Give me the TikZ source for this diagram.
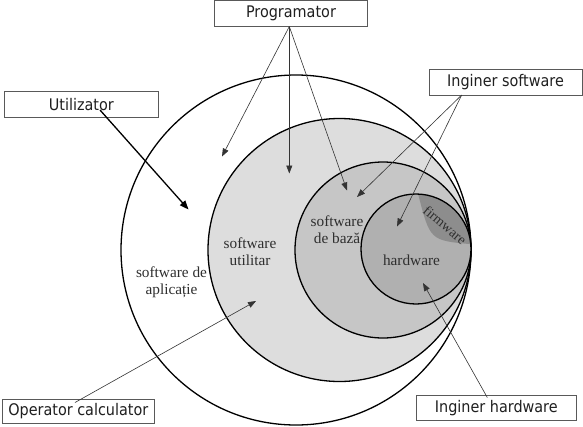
\documentclass[tikz,border=0pt]{standalone}
\usepackage{fontspec}
\setmainfont{Liberation Serif}
\newfontfamily\boxfont{DejaVu Sans Condensed}
\usetikzlibrary{arrows.meta}
\definecolor{cUtil}{HTML}{DDDDDD}
\definecolor{cBaza}{HTML}{C6C6C6}
\definecolor{cHard}{HTML}{B0B0B0}
\definecolor{cFirm}{HTML}{8D8D8D}
\begin{document}
\begin{tikzpicture}[x=1pt,y=-1pt,
  lbl/.style={font=\fontsize{15.3}{17}\selectfont, text=black!82, align=center, inner sep=0pt},
  actor/.style={draw=black!65, line width=0.8pt, font=\boxfont\fontsize{16}{18}\selectfont, text=black!88, inner sep=0pt},
  ring/.style={draw=black, line width=1.3pt},
  arr/.style={draw=black!80, line width=0.6pt, -{Triangle[length=8pt,width=6pt]}},
]
\useasboundingbox (0,0) rectangle (583,426);

% circles
\fill[white] (296,250) circle[radius=175pt];
\draw[ring] (296,250) circle[radius=175pt];
\filldraw[ring, fill=cUtil] (339.5,250) circle[radius=131.5pt];
\filldraw[ring, fill=cBaza] (383,250) circle[radius=88pt];
\fill[cHard] (416,249) circle[radius=55pt];
\begin{scope}
  \clip (416,249) circle[radius=55pt];
  \fill[cFirm] (471.5,244.2) .. controls (430,240.5) .. (418,193.5) -- (480,180) -- (490,250) -- cycle;
\end{scope}
\draw[ring] (416,249) circle[radius=55pt];

% circle labels
\node[lbl] (aplic) at (171.5,282) {software de\\aplicație};
\node[lbl] (utilit) at (250,251.5) {software\\utilitar};
\node[lbl] (baza) at (337,230) {software\\de bază};
\node[lbl] (hard) at (411.5,260) {hardware};
\node[lbl, font=\fontsize{14}{16}\selectfont, rotate=-40] (firm) at (445,225) {firmware};

% actor boxes
\node[actor, minimum width=153.4pt, minimum height=26pt] (prog) at (291,13.5) {Programator};
\node[actor, minimum width=154pt, minimum height=26.3pt] (util) at (81.3,104.2) {Utilizator};
\node[actor, minimum width=153pt, minimum height=26pt] (ingsw) at (505.5,82) {Inginer software};
\node[actor, minimum width=151.3pt, minimum height=24.7pt] (op) at (78.3,411.3) {Operator calculator};
\node[actor, minimum width=160.7pt, minimum height=25.7pt] (inghw) at (496.3,407.8) {Inginer hardware};

% arrow start and end points
\coordinate (p0) at (289.3,26.5);
\coordinate (s0) at (461.7,95);
\coordinate (u0) at (100,110);
\coordinate (o0) at (75,402.5);
\coordinate (h0) at (487.3,397.5);
\coordinate (pA) at (222,156.5);
\coordinate (pB) at (289.3,173.5);
\coordinate (pC) at (347,190.5);
\coordinate (sA) at (357,197);
\coordinate (sB) at (397,226.5);
\coordinate (uA) at (188.5,209.5);
\coordinate (oA) at (256,301);
\coordinate (hA) at (423,283);

\draw[arr] (p0) -- (pA);
\draw[arr] (p0) -- (pB);
\draw[arr] (p0) -- (pC);
\draw[arr] (s0) -- (sA);
\draw[arr] (s0) -- (sB);
\draw[arr, draw=black, line width=1.3pt, -{Triangle[length=9pt,width=7pt]}] (u0) -- (uA);
\draw[arr] (o0) -- (oA);
\draw[arr] (h0) -- (hA);
\end{tikzpicture}
\end{document}
